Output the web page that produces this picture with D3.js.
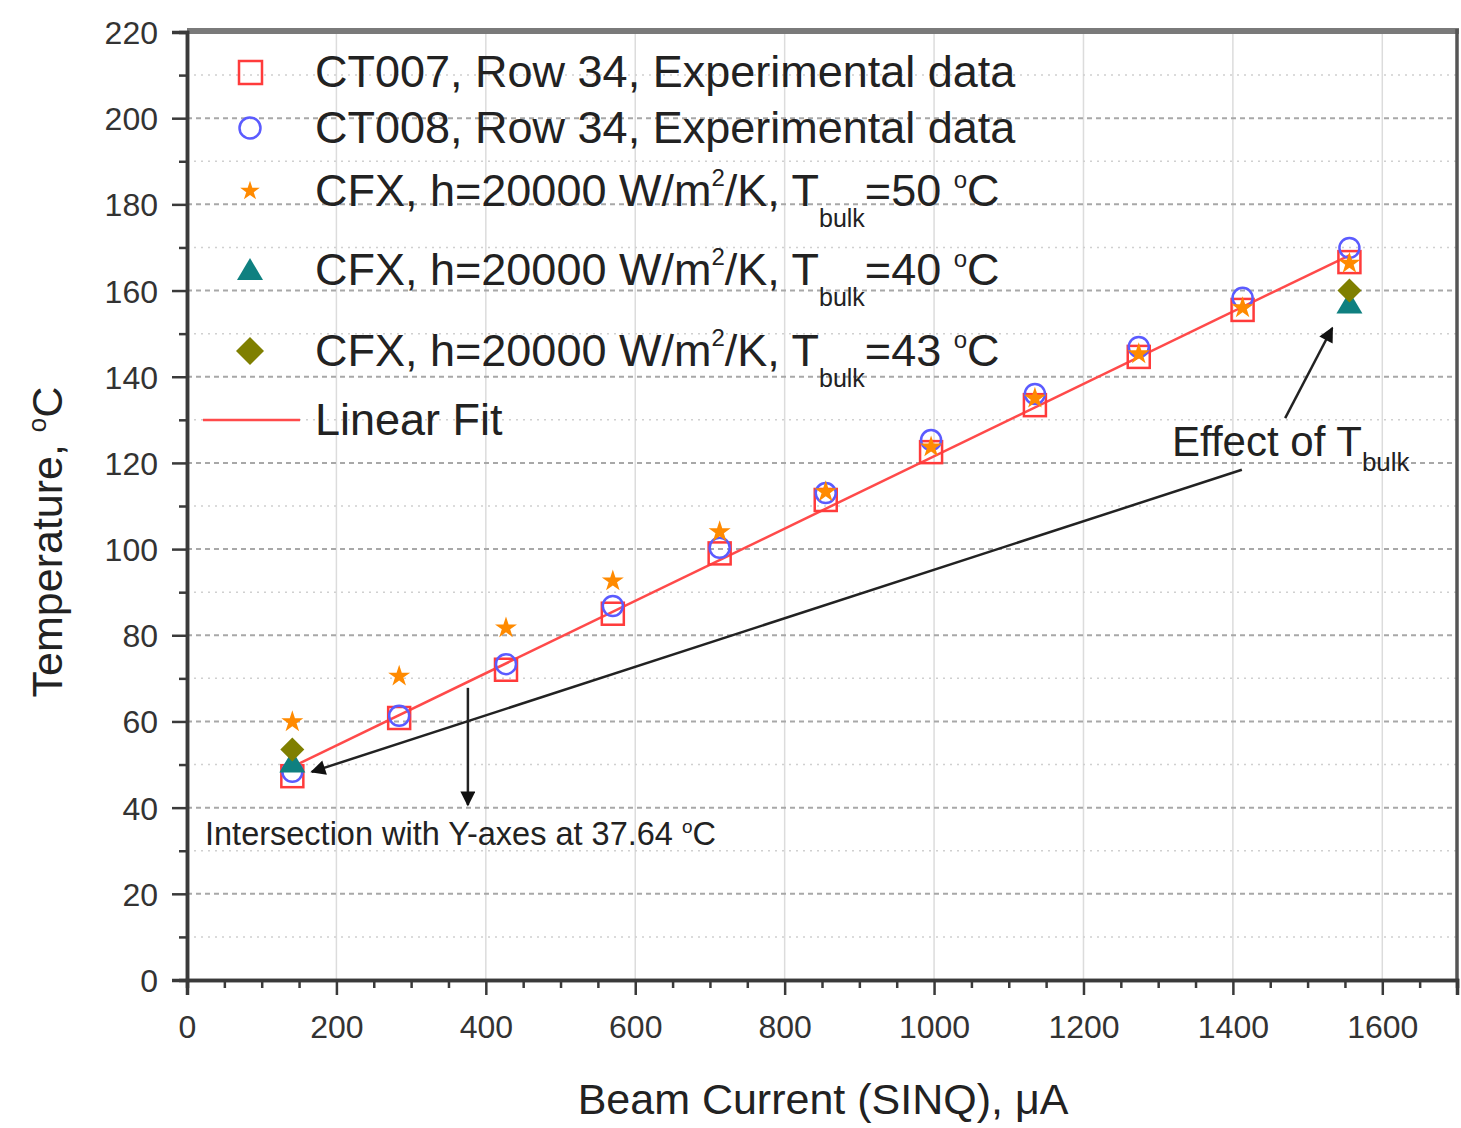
<!DOCTYPE html>
<html>
<head>
<meta charset="utf-8">
<script src="https://cdn.jsdelivr.net/npm/d3@7"></script>
<style>
  body { margin: 0; background: #fff; }
  svg { display: block; font-family: "Liberation Sans", Arial, sans-serif; }
</style>
</head>
<body>
<div id="chart"></div>
<script>
// Data
const beamCurrent = [141, 284, 427, 570, 713, 855, 996, 1135, 1274, 1413, 1556];
const ct007 = [47.3, 60.8, 72.0, 85.0, 99.0, 111.4, 122.5, 133.4, 144.6, 155.5, 166.6];
const ct008 = [48.3, 61.3, 73.3, 86.8, 100.3, 113.0, 125.3, 136.0, 146.9, 158.3, 169.9];
const cfx50 = [59.9, 70.5, 81.7, 92.6, 104.0, 113.3, 123.7, 135.0, 145.3, 156.0, 166.3];
const cfxEndCurrent = [141, 1556];
const cfx40 = [50.5, 157.0];
const cfx43 = [53.5, 160.0];
const fitIntercept = 37.64;
const fitSlope = 0.0839;
const fitRange = [145, 1556];

const xTicks = [0, 200, 400, 600, 800, 1000, 1200, 1400, 1600];
const yTicks = [0, 20, 40, 60, 80, 100, 120, 140, 160, 180, 200, 220];

const width = 1461, height = 1128;

const svg = d3.select("#chart").append("svg")
    .attr("width", width)
    .attr("height", height);

svg.append("rect").attr("width", width).attr("height", height).attr("fill", "#fff");

const x = d3.scaleLinear().domain([0, 1700]).range([187, 1457]);
const y = d3.scaleLinear().domain([0, 220]).range([980, 32]);

// grid
const grid = svg.append("g");
grid.selectAll(".vgrid")
    .data(xTicks.filter(d => d > 0))
    .join("line")
    .attr("x1", d => x(d)).attr("x2", d => x(d))
    .attr("y1", y(0)).attr("y2", y(220))
    .attr("stroke", "#dcdcdc").attr("stroke-width", 1.5);

grid.selectAll(".hminor")
    .data(d3.range(10, 220, 20))
    .join("line")
    .attr("x1", x(0)).attr("x2", x(1700))
    .attr("y1", d => y(d)).attr("y2", d => y(d))
    .attr("stroke", "#d0d0d0").attr("stroke-width", 1.5)
    .attr("stroke-dasharray", "2,5");

grid.selectAll(".hmajor")
    .data(yTicks.filter(d => d > 0 && d < 220))
    .join("line")
    .attr("x1", x(0)).attr("x2", x(1700))
    .attr("y1", d => y(d)).attr("y2", d => y(d))
    .attr("stroke", "#a8a8a8").attr("stroke-width", 2)
    .attr("stroke-dasharray", "5,4");

// frame (top and right)
svg.append("line")
    .attr("x1", x(0)).attr("x2", x(1700) + 2)
    .attr("y1", y(220) - 1).attr("y2", y(220) - 1)
    .attr("stroke", "#7a7a7a").attr("stroke-width", 6);
svg.append("line")
    .attr("x1", x(1700)).attr("x2", x(1700))
    .attr("y1", y(220) - 3).attr("y2", y(0))
    .attr("stroke", "#555").attr("stroke-width", 3.5);

// axes
const xAxis = svg.append("g")
    .attr("transform", `translate(0,${y(0)})`)
    .call(d3.axisBottom(x).tickValues(xTicks).tickSize(15).tickPadding(20).tickFormat(d3.format("d")));
const xMinor = svg.append("g")
    .attr("transform", `translate(0,${y(0)})`)
    .call(d3.axisBottom(x).tickValues(d3.range(50, 1701, 50).filter(d => d % 200 !== 0)).tickSize(8).tickFormat(""));

const yAxis = svg.append("g")
    .attr("transform", `translate(${x(0)},0)`)
    .call(d3.axisLeft(y).tickValues(yTicks).tickSize(15).tickPadding(14));
const yMinor = svg.append("g")
    .attr("transform", `translate(${x(0)},0)`)
    .call(d3.axisLeft(y).tickValues(d3.range(10, 220, 20)).tickSize(8).tickFormat(""));

[xAxis, xMinor, yAxis, yMinor].forEach(g => {
    g.select(".domain").attr("stroke", "#3a3a3a").attr("stroke-width", 3.5);
    g.selectAll(".tick line").attr("stroke", "#3a3a3a").attr("stroke-width", 2.5);
    g.selectAll(".tick text")
        .attr("fill", "#333")
        .style("font-size", "32px")
        .style("font-family", "Liberation Sans, Arial, sans-serif");
});
yAxis.selectAll(".tick text").attr("dy", "0.36em");

// axis titles
svg.append("text")
    .attr("x", 823).attr("y", 1114)
    .attr("text-anchor", "middle")
    .attr("fill", "#222")
    .style("font-size", "43px")
    .text("Beam Current (SINQ), \u03bcA");

const yTitle = svg.append("text")
    .attr("transform", "translate(62,542) rotate(-90)")
    .attr("text-anchor", "middle")
    .attr("fill", "#222")
    .style("font-size", "43px");
yTitle.append("tspan").text("Temperature, ");
yTitle.append("tspan").attr("dy", -16).style("font-size", "26px").text("o");
yTitle.append("tspan").attr("dy", 16).text("C");

// linear fit
svg.append("line")
    .attr("x1", x(fitRange[0])).attr("y1", y(fitIntercept + fitSlope * fitRange[0]))
    .attr("x2", x(fitRange[1])).attr("y2", y(fitIntercept + fitSlope * fitRange[1]))
    .attr("stroke", "#ff4a4a").attr("stroke-width", 2.5);

// marker shapes
const starPath = d3.symbol().type(d3.symbolStar).size(150)();
const starSmall = d3.symbol().type(d3.symbolStar).size(120)();
const triPath = "M0,-12 L13,10 L-13,10 Z";
const diaPath = "M0,-14 L14,0 L0,14 L-14,0 Z";
const diaSmall = "M0,-12 L12,0 L0,12 L-12,0 Z";
const pts = (xs, ys) => xs.map((v, i) => [v, ys[i]]);

svg.append("g").selectAll("rect")
    .data(pts(beamCurrent, ct007))
    .join("rect")
    .attr("x", d => x(d[0]) - 11).attr("y", d => y(d[1]) - 11)
    .attr("width", 22).attr("height", 22)
    .attr("fill", "none").attr("stroke", "#ff3b3b").attr("stroke-width", 2.5);

svg.append("g").selectAll("circle")
    .data(pts(beamCurrent, ct008))
    .join("circle")
    .attr("cx", d => x(d[0])).attr("cy", d => y(d[1]))
    .attr("r", 10)
    .attr("fill", "none").attr("stroke", "#5b5bff").attr("stroke-width", 2.5);

svg.append("g").selectAll("path")
    .data(pts(beamCurrent, cfx50))
    .join("path")
    .attr("transform", d => `translate(${x(d[0])},${y(d[1])})`)
    .attr("d", starPath)
    .attr("fill", "#ff8a00");

svg.append("g").selectAll("path")
    .data(pts(cfxEndCurrent, cfx40))
    .join("path")
    .attr("transform", d => `translate(${x(d[0])},${y(d[1])})`)
    .attr("d", triPath)
    .attr("fill", "#0f8080");

svg.append("g").selectAll("path")
    .data(pts(cfxEndCurrent, cfx43))
    .join("path")
    .attr("transform", d => `translate(${x(d[0])},${y(d[1])})`)
    .attr("d", diaSmall)
    .attr("fill", "#7f7f00");

// annotations
const defs = svg.append("defs");
defs.append("marker")
    .attr("id", "arrow")
    .attr("viewBox", "0 0 10 10")
    .attr("refX", 9).attr("refY", 5)
    .attr("markerWidth", 8).attr("markerHeight", 6)
    .attr("markerUnits", "strokeWidth")
    .attr("orient", "auto")
    .append("path")
    .attr("d", "M0,0 L10,5 L0,10 Z")
    .attr("fill", "#111");

const arrows = [
    [[1412, 118.4], [167, 48.3]],
    [[376, 67.8], [376, 40.6]],
    [[1470, 130.4], [1533, 151.3]]
];
svg.append("g").selectAll("line")
    .data(arrows)
    .join("line")
    .attr("x1", d => x(d[0][0])).attr("y1", d => y(d[0][1]))
    .attr("x2", d => x(d[1][0])).attr("y2", d => y(d[1][1]))
    .attr("stroke", "#222").attr("stroke-width", 2.5)
    .attr("marker-end", "url(#arrow)");

const inter = svg.append("text")
    .attr("x", 205).attr("y", 845)
    .attr("fill", "#222")
    .style("font-size", "32.5px");
inter.append("tspan").text("Intersection with Y-axes at 37.64 ");
inter.append("tspan").attr("dy", -12).style("font-size", "19px").text("o");
inter.append("tspan").attr("dy", 12).text("C");

const effect = svg.append("text")
    .attr("x", 1172).attr("y", 456)
    .attr("fill", "#222")
    .style("font-size", "42px");
effect.append("tspan").text("Effect of T");
effect.append("tspan").attr("dy", 15).style("font-size", "26px").text("bulk");

// legend
const legendRows = [
    { kind: "square", label: "CT007, Row 34, Experimental data" },
    { kind: "circle", label: "CT008, Row 34, Experimental data" },
    { kind: "star", t: "50" },
    { kind: "triangle", t: "40" },
    { kind: "diamond", t: "43" },
    { kind: "line", label: "Linear Fit" }
];
const legendY = [72, 128, 191, 270, 351, 420];
const legend = svg.append("g");
legendRows.forEach((r, i) => {
    const cy = legendY[i];
    const g = legend.append("g");
    if (r.kind === "square") {
        g.append("rect").attr("x", 239).attr("y", cy - 11).attr("width", 23).attr("height", 23)
            .attr("fill", "none").attr("stroke", "#ff3b3b").attr("stroke-width", 2.5);
    } else if (r.kind === "circle") {
        g.append("circle").attr("cx", 250).attr("cy", cy).attr("r", 10.5)
            .attr("fill", "none").attr("stroke", "#5b5bff").attr("stroke-width", 2.5);
    } else if (r.kind === "star") {
        g.append("path").attr("transform", `translate(250,${cy})`)
            .attr("d", starSmall).attr("fill", "#ff8a00");
    } else if (r.kind === "triangle") {
        g.append("path").attr("transform", `translate(250,${cy})`)
            .attr("d", triPath).attr("fill", "#0f8080");
    } else if (r.kind === "diamond") {
        g.append("path").attr("transform", `translate(250,${cy})`)
            .attr("d", diaPath).attr("fill", "#7f7f00");
    } else {
        g.append("line").attr("x1", 203).attr("x2", 300).attr("y1", cy).attr("y2", cy)
            .attr("stroke", "#ff4a4a").attr("stroke-width", 2.5);
    }
    const txt = g.append("text")
        .attr("x", 315).attr("y", cy + 15)
        .attr("fill", "#222")
        .style("font-size", "45px");
    if (r.label) {
        txt.text(r.label);
    } else {
        txt.append("tspan").text("CFX, h=20000 W/m");
        txt.append("tspan").attr("dy", -20).style("font-size", "24px").text("2");
        txt.append("tspan").attr("dy", 20).text("/K, T");
        txt.append("tspan").attr("dy", 21).style("font-size", "25px").text("bulk");
        txt.append("tspan").attr("dy", -21).text("=" + r.t + " ");
        txt.append("tspan").attr("dy", -18).style("font-size", "24px").text("o");
        txt.append("tspan").attr("dy", 18).text("C");
    }
});
</script>
</body>
</html>
